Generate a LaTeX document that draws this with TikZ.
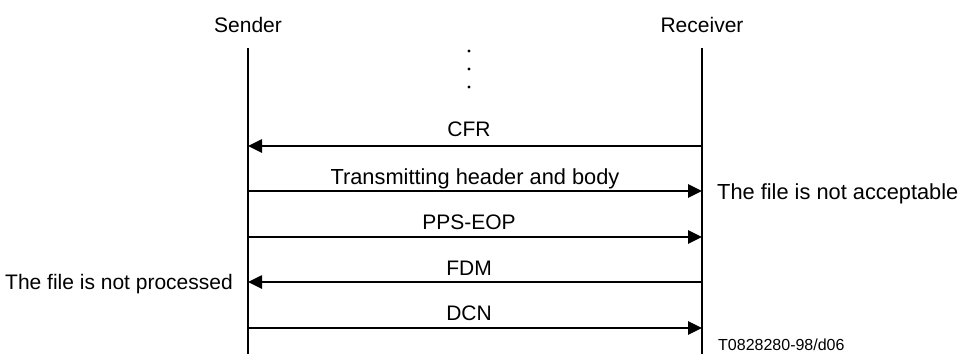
\documentclass[tikz,border=0pt]{standalone}
\usepackage{fontspec}
\setmainfont{Liberation Sans}
\usetikzlibrary{arrows.meta}
\begin{document}
\begin{tikzpicture}[x=1pt,y=-1pt,
  lifeline/.style={line width=2.6pt},
  msg/.style={line width=2.6pt,-{Triangle[length=14pt,width=13pt]}},
  lbl/.style={inner sep=0pt,font=\fontsize{21}{25}\selectfont},
  widelbl/.style={inner sep=0pt,font=\fontsize{21.8}{25}\selectfont},
  small/.style={inner sep=0pt,font=\fontsize{16}{18}\selectfont}]
\useasboundingbox (0,0) rectangle (960,354);
% headers
\node[lbl,anchor=base] (sender) at (248,32) {Sender};
\node[lbl,anchor=base] (receiver) at (702,32) {Receiver};
% lifelines
\coordinate (stop) at (248,48);
\coordinate (sbot) at (248,354);
\coordinate (rtop) at (702,48);
\coordinate (rbot) at (702,354);
\draw[lifeline] (stop) -- (sbot);
\draw[lifeline] (rtop) -- (rbot);
% dots
\foreach \y/\n in {51/d1,69/d2,87/d3}
  \fill (469,\y) circle (1.6pt) coordinate (\n);
% message end points
\foreach \y/\n in {146/1,191/2,237/3,282/4,328/5}{
  \coordinate (s\n) at (248,\y);
  \coordinate (r\n) at (702,\y);
}
\draw[msg] (r1) -- (s1);
\draw[msg] (s2) -- (r2);
\draw[msg] (s3) -- (r3);
\draw[msg] (r4) -- (s4);
\draw[msg] (s5) -- (r5);
% labels
\node[lbl,anchor=base] (cfr) at (469,136) {CFR};
\node[widelbl,anchor=base] (thb) at (475,184) {Transmitting header and body};
\node[lbl,anchor=base] (pps) at (469,229) {PPS-EOP};
\node[lbl,anchor=base] (fdm) at (469,275) {FDM};
\node[lbl,anchor=base] (dcn) at (469,320) {DCN};
\node[widelbl,anchor=base west] (acc) at (717,199) {The file is not acceptable};
\node[lbl,anchor=base east] (proc) at (233,289) {The file is not processed};
\node[small,anchor=base west] (ref) at (718,350) {T0828280-98/d06};
\end{tikzpicture}
\end{document}
